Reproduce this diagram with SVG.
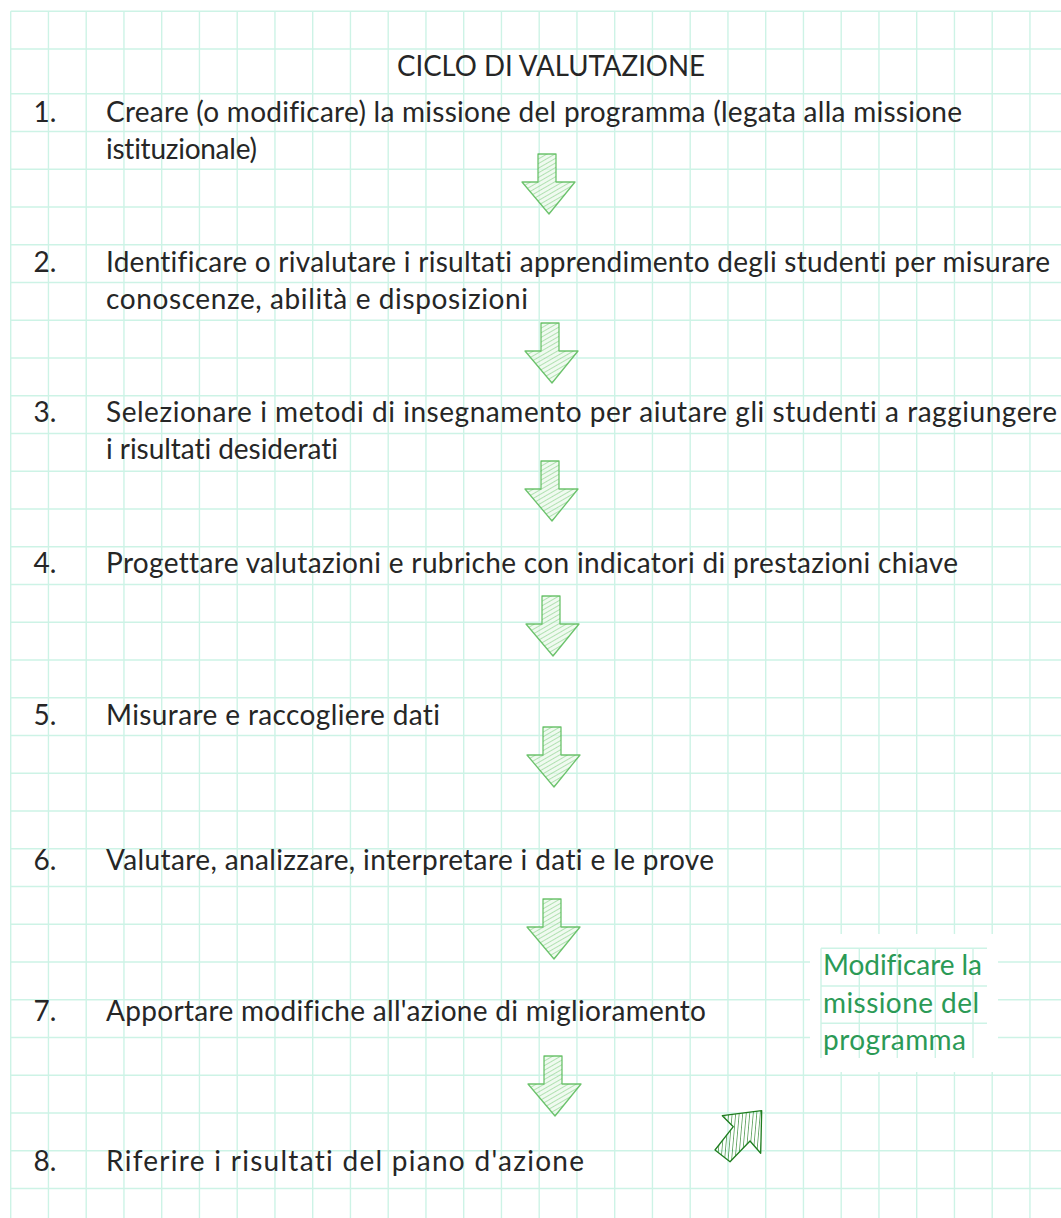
<svg xmlns="http://www.w3.org/2000/svg" width="1061" height="1218" viewBox="0 0 1061 1218">
<style>
.grid line{stroke:#cdf3e6;stroke-width:1.4}
.t{font-family:Lato,"Liberation Sans",sans-serif;font-size:28px;fill:#262626;font-variant-ligatures:none}
.g{font-family:Lato,"Liberation Sans",sans-serif;font-size:28px;fill:#2b9a56;font-variant-ligatures:none}
.arr{fill:url(#hatch);stroke:#55b955;stroke-width:1.3;stroke-opacity:0.85;stroke-linejoin:round}
.arr2{fill:url(#hatch2);stroke:#1e7d1e;stroke-width:1.3;stroke-linejoin:round}
</style>
<defs>
<pattern id="hatch" width="4" height="4" patternUnits="userSpaceOnUse" patternTransform="rotate(60)">
<rect width="4" height="4" fill="#e6f7e6" fill-opacity="0.6"/>
<line x1="0" y1="0" x2="0" y2="4" stroke="#7fcc80" stroke-width="1.4" stroke-opacity="0.8"/>
</pattern>
<pattern id="hatch2" width="3.5" height="4" patternUnits="userSpaceOnUse" patternTransform="rotate(5)">
<line x1="0" y1="0" x2="0" y2="4" stroke="#1e7d1e" stroke-width="1.2"/>
</pattern>
<path id="down" d="M16,0 L34,0 L34,28 L53,28 L27,60 L0,28 L16,28 Z"/>
</defs>
<rect width="1061" height="1218" fill="#ffffff"/>
<g class="grid" id="grid">
<line x1="10.7" y1="11.3" x2="1061" y2="11.3"/>
<line x1="10.7" y1="49" x2="1061" y2="49"/>
<line x1="10.7" y1="93.7" x2="1061" y2="93.7"/>
<line x1="10.7" y1="131.45" x2="1061" y2="131.45"/>
<line x1="10.7" y1="169.2" x2="1061" y2="169.2"/>
<line x1="10.7" y1="206.95" x2="1061" y2="206.95"/>
<line x1="10.7" y1="244.7" x2="1061" y2="244.7"/>
<line x1="10.7" y1="282.45" x2="1061" y2="282.45"/>
<line x1="10.7" y1="320.2" x2="1061" y2="320.2"/>
<line x1="10.7" y1="357.95" x2="1061" y2="357.95"/>
<line x1="10.7" y1="395.7" x2="1061" y2="395.7"/>
<line x1="10.7" y1="433.45" x2="1061" y2="433.45"/>
<line x1="10.7" y1="471.2" x2="1061" y2="471.2"/>
<line x1="10.7" y1="508.95" x2="1061" y2="508.95"/>
<line x1="10.7" y1="546.7" x2="1061" y2="546.7"/>
<line x1="10.7" y1="584.45" x2="1061" y2="584.45"/>
<line x1="10.7" y1="622.2" x2="1061" y2="622.2"/>
<line x1="10.7" y1="659.95" x2="1061" y2="659.95"/>
<line x1="10.7" y1="697.7" x2="1061" y2="697.7"/>
<line x1="10.7" y1="735.45" x2="1061" y2="735.45"/>
<line x1="10.7" y1="773.2" x2="1061" y2="773.2"/>
<line x1="10.7" y1="810.95" x2="1061" y2="810.95"/>
<line x1="10.7" y1="848.7" x2="1061" y2="848.7"/>
<line x1="10.7" y1="886.45" x2="1061" y2="886.45"/>
<line x1="10.7" y1="924.2" x2="1061" y2="924.2"/>
<line x1="10.7" y1="961.95" x2="1061" y2="961.95"/>
<line x1="10.7" y1="999.7" x2="1061" y2="999.7"/>
<line x1="10.7" y1="1037.45" x2="1061" y2="1037.45"/>
<line x1="10.7" y1="1075.2" x2="1061" y2="1075.2"/>
<line x1="10.7" y1="1112.95" x2="1061" y2="1112.95"/>
<line x1="10.7" y1="1150.7" x2="1061" y2="1150.7"/>
<line x1="10.7" y1="1188.45" x2="1061" y2="1188.45"/>
<line x1="10.7" y1="11.3" x2="10.7" y2="1218"/>
<line x1="48.45" y1="11.3" x2="48.45" y2="1218"/>
<line x1="86.2" y1="11.3" x2="86.2" y2="1218"/>
<line x1="123.95" y1="11.3" x2="123.95" y2="1218"/>
<line x1="161.7" y1="11.3" x2="161.7" y2="1218"/>
<line x1="199.45" y1="11.3" x2="199.45" y2="1218"/>
<line x1="237.2" y1="11.3" x2="237.2" y2="1218"/>
<line x1="274.95" y1="11.3" x2="274.95" y2="1218"/>
<line x1="312.7" y1="11.3" x2="312.7" y2="1218"/>
<line x1="350.45" y1="11.3" x2="350.45" y2="1218"/>
<line x1="388.2" y1="11.3" x2="388.2" y2="1218"/>
<line x1="425.95" y1="11.3" x2="425.95" y2="1218"/>
<line x1="463.7" y1="11.3" x2="463.7" y2="1218"/>
<line x1="501.45" y1="11.3" x2="501.45" y2="1218"/>
<line x1="539.2" y1="11.3" x2="539.2" y2="1218"/>
<line x1="576.95" y1="11.3" x2="576.95" y2="1218"/>
<line x1="614.7" y1="11.3" x2="614.7" y2="1218"/>
<line x1="652.45" y1="11.3" x2="652.45" y2="1218"/>
<line x1="690.2" y1="11.3" x2="690.2" y2="1218"/>
<line x1="727.95" y1="11.3" x2="727.95" y2="1218"/>
<line x1="765.7" y1="11.3" x2="765.7" y2="1218"/>
<line x1="803.45" y1="11.3" x2="803.45" y2="1218"/>
<line x1="841.2" y1="11.3" x2="841.2" y2="1218"/>
<line x1="878.95" y1="11.3" x2="878.95" y2="1218"/>
<line x1="916.7" y1="11.3" x2="916.7" y2="1218"/>
<line x1="954.45" y1="11.3" x2="954.45" y2="1218"/>
<line x1="992.2" y1="11.3" x2="992.2" y2="1218"/>
<line x1="1029.95" y1="11.3" x2="1029.95" y2="1218"/>
</g>
<g id="title"><text class="t" x="397" y="76" textLength="308" lengthAdjust="spacingAndGlyphs">CICLO DI VALUTAZIONE</text></g>
<g id="step1"><text class="t" x="33.5" y="121.5">1.</text><text class="t" x="106" y="121.5" textLength="856">Creare (o modificare) la missione del programma (legata alla missione</text><text class="t" x="106" y="159" textLength="151">istituzionale)</text></g>
<g id="step2"><text class="t" x="33.5" y="271.5">2.</text><text class="t" x="106" y="271.5" textLength="944">Identificare o rivalutare i risultati apprendimento degli studenti per misurare</text><text class="t" x="106" y="309" textLength="422">conoscenze, abilità e disposizioni</text></g>
<g id="step3"><text class="t" x="33.5" y="421.5">3.</text><text class="t" x="106" y="421.5" textLength="951">Selezionare i metodi di insegnamento per aiutare gli studenti a raggiungere</text><text class="t" x="106" y="459" textLength="232">i risultati desiderati</text></g>
<g id="step4"><text class="t" x="33.5" y="572.5">4.</text><text class="t" x="106" y="572.5" textLength="852">Progettare valutazioni e rubriche con indicatori di prestazioni chiave</text></g>
<g id="step5"><text class="t" x="33.5" y="725">5.</text><text class="t" x="106" y="725" textLength="334">Misurare e raccogliere dati</text></g>
<g id="step6"><text class="t" x="33.5" y="870">6.</text><text class="t" x="106" y="870" textLength="608">Valutare, analizzare, interpretare i dati e le prove</text></g>
<g id="step7"><text class="t" x="33.5" y="1021">7.</text><text class="t" x="106" y="1021" textLength="600">Apportare modifiche all'azione di miglioramento</text></g>
<g id="step8"><text class="t" x="33.5" y="1170.5">8.</text><text class="t" x="106" y="1170.5" textLength="478">Riferire i risultati del piano d'azione</text></g>
<g id="note">
<rect x="810" y="934" width="188" height="138" fill="#ffffff"/>
<g class="grid">
<line x1="821" y1="948.3" x2="987" y2="948.3"/>
<line x1="821" y1="986" x2="987" y2="986"/>
<line x1="821" y1="1023.3" x2="987" y2="1023.3"/>
<line x1="821" y1="948.3" x2="821" y2="1058"/>
<line x1="859.3" y1="948.3" x2="859.3" y2="1058"/>
<line x1="897.3" y1="948.3" x2="897.3" y2="1058"/>
<line x1="935.3" y1="948.3" x2="935.3" y2="1058"/>
<line x1="973" y1="948.3" x2="973" y2="1058"/>
</g>
<text class="g" x="823" y="975" textLength="159">Modificare la</text>
<text class="g" x="823" y="1012.7" textLength="156">missione del</text>
<text class="g" x="823" y="1050" textLength="143">programma</text>
</g>
<g id="connectors">
<use href="#down" class="arr" x="522" y="154"/>
<use href="#down" class="arr" x="525" y="323"/>
<use href="#down" class="arr" x="525" y="461"/>
<use href="#down" class="arr" x="526" y="596"/>
<use href="#down" class="arr" x="527" y="727"/>
<use href="#down" class="arr" x="527" y="899"/>
<use href="#down" class="arr" x="528" y="1056"/>
<polygon class="arr2" points="722.3,1115.7 761.7,1110.7 760.7,1153.3 750,1141 730,1161.7 715,1150 733.3,1126.7"/>
</g>
</svg>
